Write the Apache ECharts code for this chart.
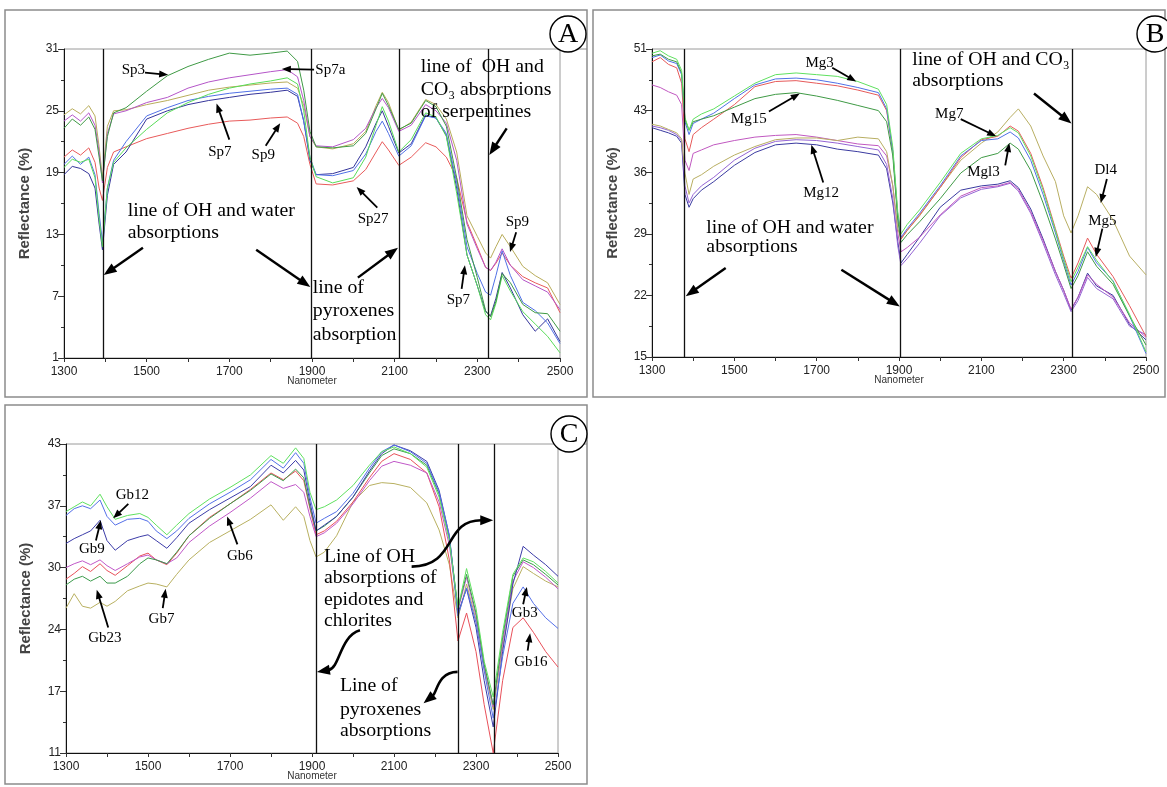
<!DOCTYPE html>
<html>
<head>
<meta charset="utf-8">
<script src="https://cdn.jsdelivr.net/npm/echarts@6/dist/echarts.min.js"></script>
<style>
html, body { margin: 0; background: #fff; }
#chart { width: 1167px; height: 787px; }
</style>
</head>
<body>
<div id="chart"></div>
<script>
// ---- panel A : serpentinites ----
const wlA = [1300,1320,1340,1360,1375,1385,1393,1405,1420,1450,1500,1550,1600,1650,1700,1750,1800,1840,1865,1880,1895,1910,1950,2000,2030,2055,2070,2085,2110,2140,2175,2200,2225,2250,2275,2300,2320,2332,2345,2360,2380,2410,2440,2470,2500];
const aSp3   = [23.3,24.2,23.6,24.4,23.2,20.5,18.2,22.5,24.8,25.3,26.9,28.4,29.3,30.0,30.6,30.4,30.6,30.8,29.8,27.0,23.0,21.5,21.4,21.6,22.8,25.2,26.7,25.5,23.2,23.8,26.0,25.4,23.5,18.5,12.5,8.8,5.6,5.0,6.5,9.2,8.3,6.2,5.4,5.3,3.6];
const aSp7a  = [24.0,24.6,24.0,24.8,23.6,21.0,18.0,22.8,24.7,25.0,25.8,26.3,27.2,27.8,28.2,28.5,28.8,29.0,28.3,26.0,22.5,21.6,21.5,22.2,23.3,25.3,26.2,25.3,23.0,23.6,25.6,25.0,23.8,20.2,14.0,11.6,9.8,9.5,10.3,11.6,10.0,8.6,8.0,7.4,5.7];
const aOlive = [24.6,25.2,24.7,25.5,24.5,21.5,18.5,23.5,25.0,25.1,25.6,26.0,26.5,27.0,27.3,27.5,27.7,27.8,27.2,25.5,22.5,21.5,21.3,21.8,23.0,25.5,26.8,25.8,23.1,23.9,26.1,25.6,24.2,21.0,14.8,12.8,11.2,10.7,11.8,13.0,11.8,9.9,9.0,8.3,6.2];
const aLight = [19.5,20.3,20.0,20.3,18.5,14.5,11.8,17.5,20.0,21.4,23.2,24.8,25.8,26.6,27.2,27.6,27.9,28.2,27.6,25.0,20.5,18.6,18.0,18.5,20.5,23.6,25.4,24.0,21.0,22.2,24.8,24.4,22.5,17.0,11.0,8.0,5.2,4.7,6.3,9.0,7.5,5.5,4.3,3.1,1.5];
const aBlue  = [19.8,20.6,19.8,20.5,18.8,15.0,12.3,17.5,20.2,22.0,24.5,25.3,26.0,26.4,26.7,26.9,27.1,27.2,26.6,24.0,20.5,18.8,18.7,19.2,20.8,23.0,24.0,22.8,20.6,21.6,24.5,24.3,22.8,18.0,11.8,9.2,7.4,7.1,9.0,11.4,9.0,6.4,5.6,4.4,2.4];
const aSp7   = [18.8,19.6,19.4,18.9,17.5,14.0,11.5,16.8,19.8,21.0,24.2,25.0,25.6,26.0,26.3,26.6,26.8,27.0,26.4,24.0,20.2,18.8,18.9,19.5,21.5,23.8,25.0,23.5,20.9,21.8,24.6,24.3,22.6,17.5,11.0,8.0,5.5,5.1,6.8,9.3,7.8,5.2,3.6,4.8,2.6];
const aSp9   = [20.5,21.2,20.7,21.4,20.0,17.5,16.3,19.5,21.0,21.5,22.3,22.8,23.3,23.7,24.0,24.1,24.3,24.4,23.8,22.5,19.8,17.9,17.8,18.2,19.3,21.0,22.0,21.2,19.7,20.5,21.9,21.5,20.5,18.5,14.2,11.8,9.8,9.5,10.2,11.2,10.0,8.9,8.3,7.8,5.4];
const linesA = [1394, 1898, 2110, 2327];
const yTicksA = [1, 7, 13, 19, 25, 31];
const yLabelsA = ['1', '7', '13', '19', '25', '31'];

// ---- panel B : magnesites ----
const wlB = [1300,1320,1340,1360,1372,1380,1390,1400,1420,1450,1500,1550,1600,1650,1700,1750,1800,1850,1870,1885,1897,1905,1920,1950,2000,2050,2100,2140,2170,2190,2220,2250,2280,2300,2318,2335,2358,2380,2420,2460,2500];
const bMg3    = [50.5,50.8,50.2,49.8,48.5,43.0,41.5,42.8,43.4,44.0,45.5,47.0,48.0,48.2,48.0,47.8,47.2,46.3,44.5,39.5,32.0,29.4,30.5,32.2,35.4,38.8,40.5,40.9,41.8,41.2,38.5,34.5,29.8,26.5,23.8,25.5,27.9,26.3,23.8,20.0,15.6];
const bBlue   = [50.0,50.3,49.6,49.3,48.0,42.5,41.0,42.3,42.8,43.5,45.2,46.8,47.5,47.6,47.4,47.0,46.5,45.9,44.0,39.0,31.5,29.0,30.0,31.8,35.0,38.5,40.3,40.5,41.3,40.6,38.0,34.0,29.5,26.2,23.4,25.0,27.8,26.0,23.9,19.8,15.4];
const bRed    = [49.5,50.0,49.2,48.8,47.0,40.5,39.0,41.0,41.8,42.8,44.5,46.6,47.2,47.3,47.0,46.7,46.2,45.6,43.8,39.0,31.5,28.8,29.8,31.6,34.8,38.3,40.4,40.8,42.0,41.4,38.8,34.8,30.0,26.8,24.2,26.0,28.9,27.0,24.4,21.0,17.4];
const bMg15   = [50.2,50.4,49.8,49.5,48.2,42.8,41.5,42.5,42.8,43.2,44.2,45.2,45.7,45.9,45.5,45.0,44.4,43.8,42.5,38.5,31.0,28.4,29.3,30.8,33.5,36.5,38.3,38.8,40.0,39.3,36.8,33.0,28.8,25.8,23.0,24.5,27.3,25.6,23.5,19.8,16.4];
const bMagenta= [46.8,46.5,46.0,45.6,44.5,38.0,36.8,38.8,39.2,39.8,40.3,40.7,40.9,41.0,40.7,40.3,39.9,39.7,38.5,35.0,29.5,27.3,27.8,29.0,31.6,33.8,34.8,35.0,35.4,34.6,32.0,28.6,25.0,22.8,20.6,22.0,24.6,23.5,22.0,19.0,17.3];
const bPurple = [42.0,41.8,41.5,41.0,40.3,35.0,33.0,34.0,35.0,36.0,38.0,39.4,40.2,40.4,40.3,40.0,39.6,39.2,37.5,33.5,28.0,25.7,26.5,28.3,31.5,33.6,34.6,34.9,35.3,34.4,31.8,28.3,24.6,22.4,20.3,21.6,24.3,23.0,21.8,18.6,17.6];
const bDl4    = [42.2,42.0,41.6,41.2,40.5,36.5,34.0,35.8,36.3,37.3,38.6,39.6,40.4,40.6,40.6,40.3,40.7,40.5,39.0,35.0,30.0,28.8,29.8,31.5,34.8,38.0,40.0,41.3,43.0,44.0,42.0,38.5,35.5,31.5,29.5,31.5,34.9,34.0,31.0,26.8,24.6];
const bMg12   = [41.8,41.5,41.2,40.8,40.0,34.0,32.5,33.5,34.5,35.5,37.4,38.9,39.8,40.0,39.8,39.3,39.0,38.6,37.0,33.0,28.5,26.0,27.0,29.0,32.5,34.5,35.0,35.2,35.6,34.8,32.3,28.8,25.0,22.8,20.5,22.0,24.8,23.3,22.2,18.8,17.0];
const linesB = [1379, 1904, 2321];
const yTicksB = [15, 22.2, 29.4, 36.6, 43.8, 51];
const yLabelsB = ['15', '22', '29', '36', '43', '51'];

// ---- panel C : gabbros ----
const wlC = [1300,1320,1340,1360,1383,1400,1420,1450,1480,1500,1520,1546,1570,1600,1650,1700,1750,1800,1830,1860,1880,1895,1910,1930,1960,2000,2040,2070,2100,2140,2180,2210,2235,2256,2277,2300,2320,2342,2365,2390,2415,2440,2470,2500];
const cGb12 = [36.0,36.5,37.0,36.6,37.8,36.5,35.2,35.6,35.8,35.4,34.6,33.6,34.6,35.8,37.3,38.5,39.8,41.8,41.0,42.6,41.5,38.0,36.2,36.5,37.2,38.7,40.8,42.2,42.7,42.0,40.6,37.5,33.0,26.0,30.1,26.0,20.5,16.8,23.5,29.5,31.2,30.8,29.8,28.6];
const cGb3  = [35.6,36.3,36.6,36.3,37.2,35.5,34.6,35.2,35.3,35.0,34.0,33.2,34.0,35.3,36.8,38.0,39.3,41.4,40.5,42.1,41.0,37.5,34.8,35.3,36.0,37.9,40.5,42.2,42.9,42.2,41.0,38.0,33.5,25.2,28.1,24.5,19.5,14.6,21.0,26.5,28.2,26.5,25.0,23.9];
const cGb9  = [32.7,33.2,33.6,34.0,35.1,33.0,32.0,33.0,33.4,33.6,33.0,32.2,33.3,34.8,36.2,37.4,38.6,40.8,40.0,41.3,40.3,37.0,34.0,34.6,35.5,37.5,40.2,42.0,42.9,42.3,41.2,38.2,33.5,25.5,28.0,24.0,18.5,13.7,21.5,28.5,32.4,31.5,30.5,29.3];
const cGb23 = [28.4,29.0,29.3,28.8,29.3,28.6,28.6,29.3,30.6,31.2,31.0,30.6,31.8,33.5,35.3,36.8,38.2,39.9,39.2,40.4,39.5,36.5,34.0,34.5,35.5,37.5,40.0,41.8,42.5,42.0,40.8,37.8,33.2,26.0,29.5,25.5,20.2,16.0,23.0,29.3,31.0,30.5,29.5,28.4];
const cGb16 = [29.0,29.6,30.3,29.8,30.6,29.9,29.4,30.4,31.4,31.7,31.0,30.5,31.7,33.5,35.4,36.8,38.3,40.0,39.3,40.2,39.2,36.3,33.6,34.0,35.0,37.0,39.5,41.2,42.0,41.4,40.0,36.5,31.0,22.6,25.5,21.5,16.0,11.0,18.5,24.0,25.0,23.5,21.5,19.9];
const cGb6  = [30.2,30.6,30.9,30.5,31.0,30.4,29.9,30.6,31.3,31.5,31.0,30.6,31.2,32.8,34.5,35.9,37.4,39.1,38.4,38.8,38.0,35.5,33.4,33.8,34.8,36.8,39.2,40.7,41.2,40.8,40.0,37.0,32.5,25.8,29.2,25.2,20.0,15.8,22.5,28.8,30.8,30.2,29.2,28.0];
const cGb7  = [26.0,27.5,26.2,26.0,26.6,26.2,26.7,27.8,28.3,28.6,28.5,28.2,29.5,31.0,32.8,34.0,35.2,36.7,35.1,36.5,35.5,33.0,31.3,31.8,33.5,37.0,38.7,39.0,38.9,38.5,36.9,34.1,30.5,25.0,28.5,24.8,19.8,15.5,22.0,28.0,30.3,29.6,28.8,28.2];
const linesC = [1910, 2256, 2344];
const yTicksC = [11, 17.4, 23.8, 30.2, 36.6, 43];
const yLabelsC = ['11', '17', '24', '30', '37', '43'];

const xLabels = [1300, 1500, 1700, 1900, 2100, 2300, 2500];
const xTicks = [1300, 1400, 1500, 1600, 1700, 1800, 1900, 2000, 2100, 2200, 2300, 2400, 2500];

const SANS = "'Liberation Sans Narrow','Liberation Sans',Arial,sans-serif";
const SERIF = "'Liberation Serif','Times New Roman',serif";

let chart = echarts.init(document.getElementById('chart'));

function nearest(arr, v) {
	let best = 0;
	arr.forEach((a, i) => { if (Math.abs(a - v) < Math.abs(arr[best] - v)) best = i; });
	return best;
}

function xAxisFor(g) {
	return {
		gridIndex: g, type: 'value', min: 1300, max: 2500,
		axisLine: { lineStyle: { color: '#111', width: 1 } },
		axisTick: { inside: false, length: 4, customValues: xTicks, lineStyle: { color: '#333' } },
		axisLabel: { customValues: xLabels, formatter: (v) => String(v), color: '#222', fontSize: 12, fontFamily: SANS, margin: 8 },
		splitLine: { show: false },
		// the name sits over the lower half of the 1900 label, as in the source figure
		name: 'Nanometer', nameLocation: 'middle', nameGap: 14, nameMoveOverlap: false,
		nameTextStyle: { fontSize: 10, fontFamily: SANS, color: '#333', backgroundColor: '#fff', padding: [4, 2, 0, 2] },
	};
}

function yAxesFor(g, ticks, labels, gap) {
	const mids = ticks.slice(1).map((t, i) => (t + ticks[i]) / 2);
	return [
		{
			gridIndex: g, type: 'value', position: 'left', min: ticks[0], max: ticks[ticks.length - 1],
			axisLine: { show: true, lineStyle: { color: '#111', width: 1 } },
			axisTick: { show: true, length: 6, customValues: ticks, lineStyle: { color: '#333' } },
			axisLabel: { customValues: ticks, formatter: (v) => labels[nearest(ticks, v)], color: '#222', fontSize: 12, fontFamily: SANS, margin: 5 },
			splitLine: { show: false },
			name: 'Reflectance (%)', nameLocation: 'middle', nameGap: gap, nameMoveOverlap: false,
			nameTextStyle: { fontSize: 15, fontWeight: 'bold', fontFamily: 'Liberation Sans', color: '#444' },
		},
		{
			gridIndex: g, type: 'value', position: 'left', min: ticks[0], max: ticks[ticks.length - 1],
			axisLine: { show: false },
			axisTick: { show: true, length: 3, customValues: mids, lineStyle: { color: '#333' } },
			axisLabel: { show: false },
			splitLine: { show: false },
		},
	];
}

function line(name, wl, vals, color, g, vlines) {
	const s = {
		name, type: 'line', xAxisIndex: g, yAxisIndex: 2 * g,
		data: wl.map((w, i) => [w, vals[i]]),
		showSymbol: false, symbol: 'none', silent: true,
		lineStyle: { width: 1, color }, itemStyle: { color },
	};
	if (vlines) {
		s.markLine = {
			symbol: 'none', silent: true, label: { show: false },
			lineStyle: { color: '#111', width: 1.3, type: 'solid' },
			data: vlines.map((v) => ({ xAxis: v })),
		};
	}
	return s;
}

let option = {
	animation: false,
	grid: [
		{ left: 64, top: 49, width: 496, height: 309, show: true, borderColor: '#9a9a9a', borderWidth: 1 },
		{ left: 652, top: 49, width: 494, height: 308, show: true, borderColor: '#9a9a9a', borderWidth: 1 },
		{ left: 66, top: 444, width: 492, height: 309, show: true, borderColor: '#9a9a9a', borderWidth: 1 },
	],
	xAxis: [xAxisFor(0), xAxisFor(1), xAxisFor(2)],
	yAxis: [
		...yAxesFor(0, yTicksA, yLabelsA, 32),
		...yAxesFor(1, yTicksB, yLabelsB, 32),
		...yAxesFor(2, yTicksC, yLabelsC, 33),
	],
	series: [
		line('Sp9', wlA, aSp9, '#e85a5a', 0, linesA),
		line('Sp7', wlA, aSp7, '#34349a', 0),
		line('blue', wlA, aBlue, '#5070e6', 0),
		line('olive', wlA, aOlive, '#b8ac5a', 0),
		line('lightgreen', wlA, aLight, '#58dc58', 0),
		line('Sp7a', wlA, aSp7a, '#b455c8', 0),
		line('Sp3', wlA, aSp3, '#3f9a45', 0),

		line('Mg12', wlB, bMg12, '#3a3aa0', 1, linesB),
		line('purple', wlB, bPurple, '#9464d4', 1),
		line('magenta', wlB, bMagenta, '#c058c0', 1),
		line('Dl4', wlB, bDl4, '#b8ae62', 1),
		line('red', wlB, bRed, '#e65a5a', 1),
		line('blue', wlB, bBlue, '#5070e6', 1),
		line('Mg15', wlB, bMg15, '#3f9a45', 1),
		line('Mg3', wlB, bMg3, '#5fe05f', 1),

		line('Gb7', wlC, cGb7, '#b8b060', 2, linesC),
		line('Gb16', wlC, cGb16, '#e8505a', 2),
		line('Gb6', wlC, cGb6, '#c058c8', 2),
		line('Gb23', wlC, cGb23, '#3a9a4a', 2),
		line('Gb9', wlC, cGb9, '#3c3ca8', 2),
		line('Gb3', wlC, cGb3, '#5570e8', 2),
		line('Gb12', wlC, cGb12, '#5fe05f', 2),
	],
};

chart.setOption(option);

// ---- annotations, placed in data space of each panel ----
const labels = [
	// [panel, text, x, y]
	[0, 'Sp3', 1468, 29.0], [0, 'Sp7', 1677, 21.0], [0, 'Sp9', 1782, 20.7], [0, 'Sp27', 2048, 14.5],
	[0, 'Sp9', 2397, 14.2], [0, 'Sp7', 2254, 6.6],
	[1, 'Mg3', 1707, 49.4], [1, 'Mg15', 1535, 42.8], [1, 'Mg12', 1711, 34.2], [1, 'Mg7', 2022, 43.4],
	[1, 'Mgl3', 2105, 36.6], [1, 'Dl4', 2402, 36.8], [1, 'Mg5', 2394, 30.9],
	[2, 'Gb12', 1462, 37.7], [2, 'Gb9', 1363, 32.1], [2, 'Gb23', 1395, 22.9], [2, 'Gb7', 1533, 24.9],
	[2, 'Gb6', 1724, 31.4], [2, 'Gb3', 2419, 25.5], [2, 'Gb16', 2434, 20.4],
];
const leftLabels = [
	[0, 'Sp7a', 1908, 29.0],
];
const notes = [
	// [panel, text, left x, y]
	[0, 'line of OH and water', 1454, 15.2], [0, 'absorptions', 1454, 13.1],
	[0, 'line of', 1902, 7.8], [0, 'pyroxenes', 1902, 5.5], [0, 'absorption', 1902, 3.2],
	[0, 'line of  OH and', 2163, 29.2], [0, 'CO\u2083 absorptions', 2163, 27.0], [0, 'of serpentines', 2163, 24.9],
	[1, 'line of OH and water', 1432, 30.1], [1, 'absorptions', 1432, 27.8],
	[1, 'line of OH and CO\u2083', 1932, 49.7], [1, 'absorptions', 1932, 47.2],
	[2, 'Line of OH', 1929, 31.3], [2, 'absorptions of', 1929, 29.1], [2, 'epidotes and', 1929, 26.85], [2, 'chlorites', 1929, 24.6],
	[2, 'Line of', 1968, 17.9], [2, 'pyroxenes', 1968, 15.45], [2, 'absorptions', 1968, 13.2],
];
const smallArrows = [
	// [panel, x1, y1, x2, y2]
	[0, 1496, 28.7, 1552, 28.5], [0, 1905, 29.0, 1827, 29.05], [0, 1700, 22.2, 1669, 25.7],
	[0, 1788, 21.6, 1823, 23.8], [0, 2058, 15.6, 2008, 17.6], [0, 2394, 13.2, 2379, 11.3],
	[0, 2262, 7.7, 2270, 10.0],
	[1, 1738, 48.8, 1796, 47.2], [1, 1584, 43.7, 1659, 45.8], [1, 1716, 35.4, 1687, 39.8],
	[1, 2050, 42.8, 2136, 40.8], [1, 2158, 37.4, 2168, 40.0], [1, 2405, 35.8, 2390, 33.0],
	[1, 2394, 30.0, 2378, 26.7],
	[2, 1452, 36.8, 1415, 35.3], [2, 1373, 33.0, 1385, 35.1], [2, 1403, 24.0, 1375, 27.9],
	[2, 1536, 26.0, 1543, 28.0], [2, 1718, 32.6, 1693, 35.5], [2, 2415, 26.4, 2424, 28.2],
	[2, 2426, 21.6, 2432, 23.4],
];
const bigArrows = [
	[0, 1491, 11.7, 1396, 9.06], [0, 1765, 11.5, 1896, 7.9], [0, 2011, 8.8, 2108, 11.7], [0, 2371, 23.3, 2329, 20.7],
	[1, 1479, 25.4, 1382, 22.1], [1, 1760, 25.2, 1902, 20.9], [1, 2228, 45.8, 2319, 42.3],
];
const curvedArrows = [
	// [panel, start, cp1, cp2, end]
	[2, [2143, 30.3], [2255, 30.4], [2220, 35.1], [2342, 35.1]],
	[2, [2017, 23.7], [1968, 23.1], [1968, 19.8], [1912, 19.4]],
	[2, [2255, 19.4], [2207, 19.4], [2205, 17.3], [2172, 16.15]],
];

function px(g, p) {
	return chart.convertToPixel({ xAxisIndex: g, yAxisIndex: 2 * g }, p);
}

function head(tip, from, hl, hw) {
	const dx = tip[0] - from[0], dy = tip[1] - from[1];
	const L = Math.hypot(dx, dy), ux = dx / L, uy = dy / L;
	const bx = tip[0] - ux * hl, by = tip[1] - uy * hl;
	return {
		base: [bx + ux, by + uy],
		el: {
			type: 'polygon', z: 50,
			shape: { points: [[tip[0], tip[1]], [bx - uy * hw / 2, by + ux * hw / 2], [bx + uy * hw / 2, by - ux * hw / 2]] },
			style: { fill: '#000' },
		},
	};
}

function arrow(g, a, lw, hl, hw) {
	const p1 = px(g, [a[0], a[1]]), p2 = px(g, [a[2], a[3]]);
	const h = head(p2, p1, hl, hw);
	return [
		{ type: 'line', z: 50, shape: { x1: p1[0], y1: p1[1], x2: h.base[0], y2: h.base[1] }, style: { stroke: '#000', lineWidth: lw } },
		h.el,
	];
}

let graphics = [];

// panel frames
[[5, 10, 582, 387], [593, 10, 572, 387], [5, 405, 582, 379]].forEach((r) => {
	graphics.push({ type: 'rect', z: 1, shape: { x: r[0], y: r[1], width: r[2], height: r[3] }, style: { fill: 'none', stroke: '#8c8c8c', lineWidth: 1.5 } });
});
// top border running on to the frame
[[560, 49, 587], [1146, 49, 1165], [558, 444, 587]].forEach((l) => {
	graphics.push({ type: 'line', z: 1, shape: { x1: l[0], y1: l[1], x2: l[2], y2: l[1] }, style: { stroke: '#8c8c8c', lineWidth: 1 } });
});
// panel letters
[['A', 568, 34], ['B', 1155, 34], ['C', 569, 434]].forEach((c) => {
	graphics.push({ type: 'circle', z: 70, shape: { cx: c[1], cy: c[2], r: 18 }, style: { fill: '#fff', stroke: '#000', lineWidth: 1.4 } });
	graphics.push({ type: 'text', z: 71, x: c[1], y: c[2] + 1, style: { text: c[0], fontSize: 28, fontFamily: SERIF, fill: '#000', align: 'center', verticalAlign: 'middle' } });
});

labels.forEach((l) => {
	const p = px(l[0], [l[2], l[3]]);
	graphics.push({ type: 'text', z: 60, x: p[0], y: p[1], style: { text: l[1], fontSize: 15, fontFamily: SERIF, fill: '#000', align: 'center', verticalAlign: 'middle' } });
});
leftLabels.forEach((l) => {
	const p = px(l[0], [l[2], l[3]]);
	graphics.push({ type: 'text', z: 60, x: p[0], y: p[1], style: { text: l[1], fontSize: 15, fontFamily: SERIF, fill: '#000', align: 'left', verticalAlign: 'middle' } });
});
notes.forEach((n) => {
	const p = px(n[0], [n[2], n[3]]);
	graphics.push({ type: 'text', z: 60, x: p[0], y: p[1], scaleX: 1.1, style: { text: n[1], fontSize: 18, fontFamily: SERIF, fill: '#000', align: 'left', verticalAlign: 'middle' } });
});
smallArrows.forEach((a) => { graphics.push(...arrow(a[0], a.slice(1), 1.8, 9, 7)); });
bigArrows.forEach((a) => { graphics.push(...arrow(a[0], a.slice(1), 2.4, 13, 10)); });
curvedArrows.forEach((c) => {
	const g = c[0];
	const s = px(g, c[1]), c1 = px(g, c[2]), c2 = px(g, c[3]), e = px(g, c[4]);
	const h = head(e, c2, 13, 10);
	graphics.push({
		type: 'bezierCurve', z: 50,
		shape: { x1: s[0], y1: s[1], cpx1: c1[0], cpy1: c1[1], cpx2: c2[0], cpy2: c2[1], x2: h.base[0], y2: h.base[1] },
		style: { stroke: '#000', lineWidth: 2.6, fill: null },
	});
	graphics.push(h.el);
});

chart.setOption({ graphic: graphics });
</script>
</body>
</html>
